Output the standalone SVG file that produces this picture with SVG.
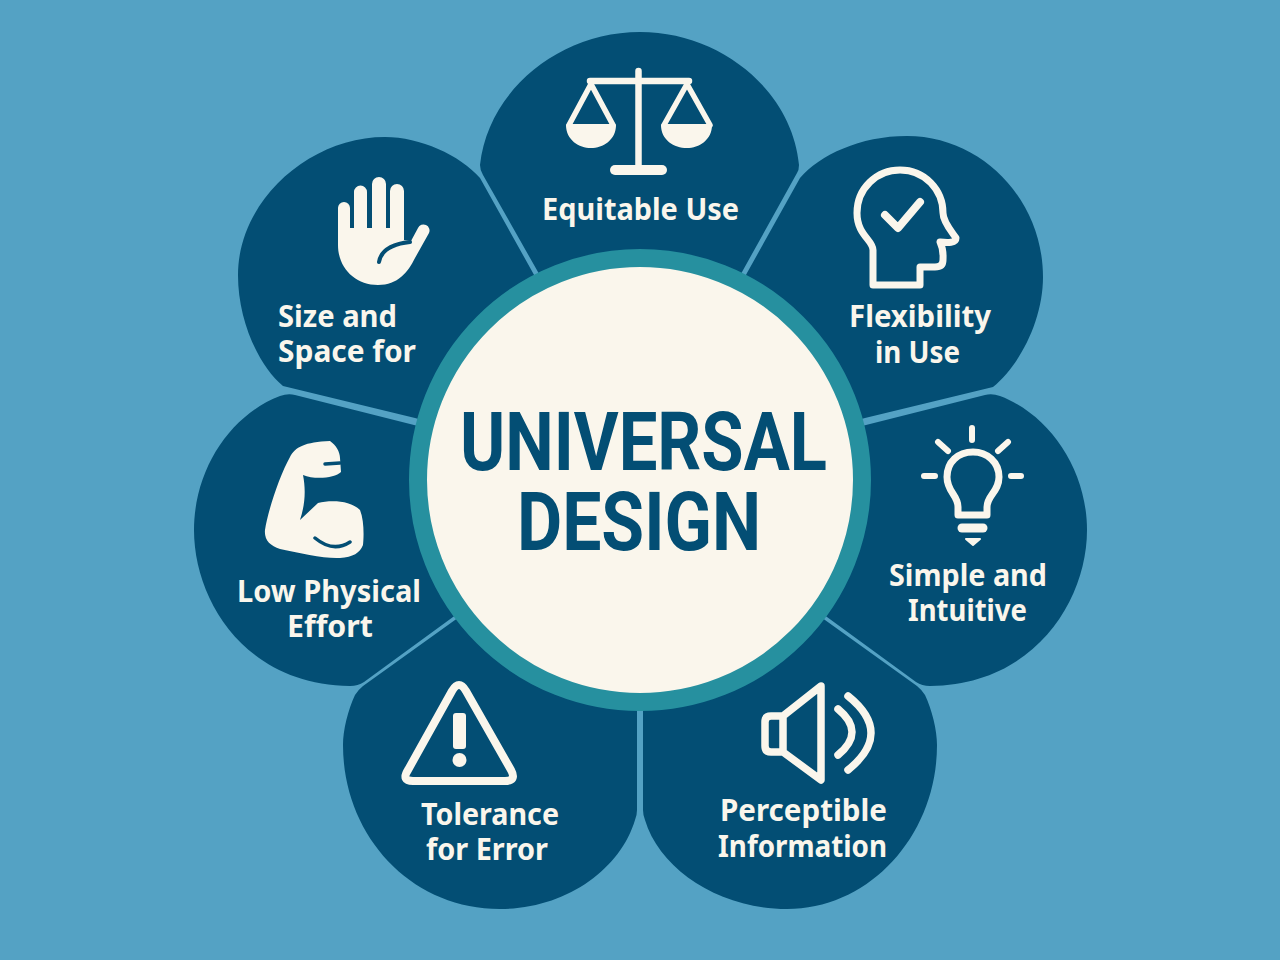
<svg xmlns="http://www.w3.org/2000/svg" width="1280" height="960" viewBox="0 0 1280 960">
<style>
.petal{fill:#034e74}
.lab{font-family:"Noto Sans","Open Sans","Liberation Sans",sans-serif;font-weight:700;font-size:29.500px;fill:#faf6ec}
.title{font-family:Roboto,"Liberation Sans",sans-serif;font-weight:700;font-size:82px;fill:#034e74}
.fill{fill:#faf6ec}
.line{fill:none;stroke:#faf6ec;stroke-linecap:round;stroke-linejoin:round}
.cut{fill:none;stroke:#034e74;stroke-linecap:round}
</style>
<rect width="1280" height="960" fill="#54a2c4"/>
<g id="node-equitable-use">
<path class="petal" d="M538,272L483,175Q480,170 480,165C488,90 560,32 640,32C720,32 792,90 799,165Q799,170 797,173L742,272L640,480Z"/>
<path class="line" stroke-width="6.500" d="M638.500,71V170M590,81H689"/>
<path class="line" stroke-width="5.500" d="M591,84L569,125M591,84L613,125M687,84L664,125M687,84L710,125"/>
<path class="line" stroke-width="10" d="M615,170H662"/>
<path class="fill" d="M566,125Q566,124 568,124H614Q616,124 616,125C616,140 603,148 591,148C579,148 566,140 566,125ZM661,125Q661,124 663,124H710Q712,124 712,125C712,140 699,148 687,148C674,148 661,140 661,125Z"/>
<text class="lab" x="542" y="220" textLength="197" lengthAdjust="spacingAndGlyphs">Equitable Use</text>
</g>
<g id="node-flexibility">
<path class="petal" d="M747,273L800,178C820,155 860,136 907,136C982,136 1043,200 1043,277C1043,320 1020,365 993,387L865,418L640,480Z"/>
<path class="line" stroke-width="7" d="M873,285V250C873,240 857,235 857,213C857,188 877,170 900,170C925,170 943,190 943,213C943,222 952,232 956,238C956,243 948,243 940,242C944,250 943,256 943,260C943,265 940,267 935,267H920V285Z"/>
<path class="line" stroke-width="8" d="M885,215L898,228L920,202"/>
<text class="lab" x="849" y="327" textLength="142" lengthAdjust="spacingAndGlyphs">Flexibility</text>
<text class="lab" x="875" y="363" textLength="85" lengthAdjust="spacingAndGlyphs">in Use</text>
</g>
<g id="node-simple-intuitive">
<path class="petal" d="M866,425L985,395Q992,393 1000,396C1050,415 1087,470 1087,530C1087,600 1035,685 930,686Q922,686 916,682L827,617L640,480Z"/>
<path class="line" stroke-width="7" d="M958,515V507C958,495 947,492 947,477C947,462 958,452 973,452C987,452 999,462 999,477C999,492 987,495 987,507V515Z"/>
<path class="line" stroke-width="9" d="M962,528H983"/>
<path class="line" stroke-width="6" d="M972,428V440M924,476H935M1011,476H1021M938,442L948,451M1008,442L998,451"/>
<path class="line" stroke-width="2" style="fill:#faf6ec" d="M966,539H980L973,545Z"/>
<text class="lab" x="889" y="586" textLength="158" lengthAdjust="spacingAndGlyphs">Simple and</text>
<text class="lab" x="908" y="621" textLength="119" lengthAdjust="spacingAndGlyphs">Intuitive</text>
</g>
<g id="node-perceptible-information">
<path class="petal" d="M825,620L917,686Q922,690 925,695C932,710 937,730 937,745C937,835 870,909 787,909C720,909 660,870 645,820Q643,815 643,810V710L640,480Z"/>
<path class="line" stroke-width="7.500" d="M821,686L783,716H771Q765,716 765,722V746Q765,752 771,752H783L821,780ZM783,716V752"/>
<path class="line" stroke-width="7.500" d="M838,709Q866,732 838,755M848,696Q894,733 848,770"/>
<text class="lab" x="720" y="821" textLength="167" lengthAdjust="spacingAndGlyphs">Perceptible</text>
<text class="lab" x="718" y="857" textLength="169" lengthAdjust="spacingAndGlyphs">Information</text>
</g>
<g id="node-tolerance">
<path class="petal" d="M455,620L363,686Q358,690 355,695C348,710 343,730 343,745C343,835 410,909 500,909C565,909 620,870 635,820Q637,815 637,810V710L640,480Z"/>
<path class="line" stroke-width="8" d="M452,691Q459,679 466,691L511,770Q517,781 505,781H413Q401,781 408,770Z"/>
<rect class="fill" x="453" y="713" width="13" height="36" rx="3"/>
<circle class="fill" cx="459.500" cy="760" r="7"/>
<text class="lab" x="421" y="825" textLength="138" lengthAdjust="spacingAndGlyphs">Tolerance</text>
<text class="lab" x="426" y="860" textLength="122" lengthAdjust="spacingAndGlyphs">for Error</text>
</g>
<g id="node-low-physical-effort">
<path class="petal" d="M414,425L295,395Q288,393 280,396C230,415 194,470 194,530C194,600 245,685 350,686Q358,686 364,682L453,617L640,480Z"/>
<path class="fill" d="M265,530C268,510 280,475 290,457C295,447 305,442 330,441C336,445 340,452 340,458L341,472C335,478 315,480 303,475C306,490 305,505 300,520L318,503C330,500 350,500 360,510C364,520 364,535 363,545C360,553 353,557 340,558C325,559 300,553 280,549C270,546 264,540 265,530Z"/>
<path class="cut" stroke-width="3.500" d="M325,464L340,463M315,538Q333,553 350,542"/>
<text class="lab" x="237" y="602" textLength="184" lengthAdjust="spacingAndGlyphs">Low Physical</text>
<text class="lab" x="287" y="637" textLength="86" lengthAdjust="spacingAndGlyphs">Effort</text>
</g>
<g id="node-size-space">
<path class="petal" d="M533,273L480,178C460,155 420,137 385,137C310,137 238,200 238,275C238,320 258,365 283,386L415,418L640,480Z"/>
<path class="fill" d="M338,208A6,6 0 0 1 350,208V228H354V192A6.500,6.500 0 0 1 367,192V228H372V184A7,7 0 0 1 386,184V228H390V191A7,7 0 0 1 404,191V240L411,241L418,228A6,6 0 0 1 429,233L415,258C408,272 398,285 378,285C355,285 338,268 338,245Z"/>
<path class="cut" stroke-width="4" d="M379,262C381,250 392,244 410,242"/>
<text class="lab" x="278" y="327" textLength="119" lengthAdjust="spacingAndGlyphs">Size and</text>
<text class="lab" x="278" y="362" textLength="138" lengthAdjust="spacingAndGlyphs">Space for</text>
</g>
<g id="node-universal-design">
<circle cx="640" cy="480" r="222" fill="#faf6ec" stroke="#26909f" stroke-width="18"/>
<text class="title" x="460" y="470" textLength="367" lengthAdjust="spacingAndGlyphs">UNIVERSAL</text>
<text class="title" x="517" y="550" textLength="244" lengthAdjust="spacingAndGlyphs">DESIGN</text>
</g>
<g id="connectors"/>
</svg>
